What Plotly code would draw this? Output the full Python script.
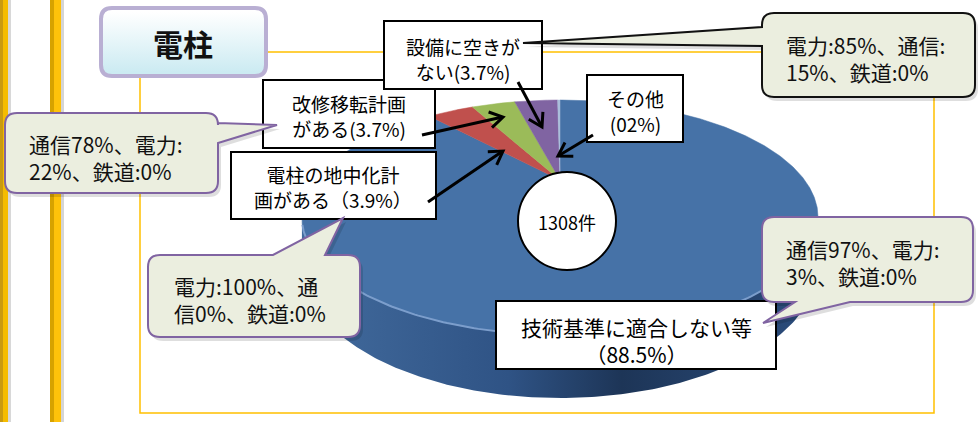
import numpy as np
import plotly.graph_objects as go

# ---------------- data ----------------
title_text = "電柱"
categories = ["技術基準に適合しない等", "電柱の地中化計画がある", "改修移転計画がある", "設備に空きがない", "その他"]
values = [88.5, 3.9, 3.7, 3.7, 0.2]
total_label = "1308件"
label_lines = [
    ["技術基準に適合しない等", "（88.5%）"],
    ["電柱の地中化計", "画がある（3.9%）"],
    ["改修移転計画", "がある(3.7%)"],
    ["設備に空きが", "ない(3.7%)"],
    ["その他", "(02%)"],
]
owner_lines = [
    ["通信97%、電力:", "3%、鉄道:0%"],
    ["電力:100%、通", "信0%、鉄道:0%"],
    ["通信78%、電力:", "22%、鉄道:0%"],
    ["電力:85%、通信:", "15%、鉄道:0%"],
]

# ---------------- styles / layout ----------------
W, H = 979, 422
FONT = "Noto Sans CJK JP"
slice_colors = ["#4672A7", "#C0504D", "#9BBB59", "#8064A2", "#A9BEDA"]

# perspective pie geometry (pixel space)
CX, CY, A, B, K, D0 = 560, 180, 244.6, 105.5, 0.319, 43


def proj(phi, drop=0.0):
    ph = np.radians(phi)
    X = np.sin(ph)
    Z = -np.cos(ph)
    s = 1.0 / (1.0 - K * Z)
    return CX + A * X * s, CY + B * Z * s + D0 * drop * s


fig = go.Figure()

# side of the pie
phis = np.linspace(108.6, 251.4, 240)
tx, ty = proj(phis)
bx, by = proj(phis[::-1], 1.0)
fig.add_trace(go.Scatter(
    x=np.concatenate([tx, bx]), y=np.concatenate([ty, by]),
    fill="toself", mode="lines", line=dict(width=0),
    fillgradient=dict(type="horizontal",
                      colorscale=[[0, "#426B9D"], [0.4, "#2F5385"], [0.62, "#1D3557"], [1, "#2C4E7E"]]),
    hoverinfo="skip", showlegend=False))

# top face slices
cum = np.cumsum([0] + values)
tot = cum[-1]
for i, v in enumerate(values):
    a0 = cum[i] / tot * 360
    a1 = cum[i + 1] / tot * 360
    ph = np.linspace(a0, a1, max(3, int((a1 - a0) * 2)))
    ex, ey = proj(ph)
    fig.add_trace(go.Scatter(
        x=np.concatenate([[CX], ex, [CX]]), y=np.concatenate([[CY], ey, [CY]]),
        fill="toself", mode="lines", line=dict(width=0.5, color=slice_colors[i]),
        fillcolor=slice_colors[i], hoverinfo="skip", showlegend=False))

# bevel highlight on the front edge
hx, hy = proj(np.linspace(112, 248, 200))
fig.add_trace(go.Scatter(x=hx, y=hy, mode="lines", line=dict(color="#7C9ECC", width=2),
                         hoverinfo="skip", showlegend=False))


def rrect_pts(x0, y0, x1, y1, r, n=10):
    pts = []
    for (cx, cy, a0, a1) in [(x1 - r, y0 + r, -90, 0), (x1 - r, y1 - r, 0, 90),
                             (x0 + r, y1 - r, 90, 180), (x0 + r, y0 + r, 180, 270)]:
        t = np.radians(np.linspace(a0, a1, n))
        pts += list(zip(cx + r * np.cos(t), cy + r * np.sin(t)))
    pts.append(pts[0])
    return [p[0] for p in pts], [p[1] for p in pts]


# title box fill (gradient)
tbx, tby = rrect_pts(102, 9, 265, 75, 10)
fig.add_trace(go.Scatter(
    x=tbx, y=tby, fill="toself", mode="lines", line=dict(width=0),
    fillgradient=dict(type="vertical", colorscale=[[0, "#FFFFFF"], [1, "#CCEBF2"]], start=12, stop=72),
    hoverinfo="skip", showlegend=False))

shapes = []
# left golden bars
shapes += [
    dict(type="rect", x0=0, x1=3, y0=0, y1=H, fillcolor="#C99A10", line=dict(width=0), layer="below"),
    dict(type="rect", x0=3, x1=8, y0=0, y1=H, fillcolor="#F5BC00", line=dict(width=0), layer="below"),
    dict(type="rect", x0=8, x1=11, y0=0, y1=H, fillcolor="#D8D8D8", line=dict(width=0), layer="below"),
    dict(type="rect", x0=50, x1=54, y0=0, y1=H, fillcolor="#D7A200", line=dict(width=0), layer="below"),
    dict(type="rect", x0=54, x1=61, y0=0, y1=H, fillcolor="#FFC20A", line=dict(width=0), layer="below"),
    dict(type="rect", x0=61, x1=64, y0=0, y1=H, fillcolor="#D5D5D5", line=dict(width=0), layer="below"),
]
# frame
shapes.append(dict(type="rect", x0=140, x1=934, y0=52, y1=413,
                   line=dict(color="#FFC000", width=1.5), fillcolor="rgba(0,0,0,0)", layer="below"))


def rr_path(x0, y0, x1, y1, r, side=None, b0=None, b1=None, tip=None):
    p = [f"M{x0 + r},{y0}"]
    if side == "top":
        p += [f"L{b0},{y0}", f"L{tip[0]},{tip[1]}", f"L{b1},{y0}"]
    p += [f"L{x1 - r},{y0}", f"Q{x1},{y0} {x1},{y0 + r}"]
    if side == "right":
        p += [f"L{x1},{b0}", f"L{tip[0]},{tip[1]}", f"L{x1},{b1}"]
    p += [f"L{x1},{y1 - r}", f"Q{x1},{y1} {x1 - r},{y1}"]
    if side == "bottom":
        p += [f"L{b1},{y1}", f"L{tip[0]},{tip[1]}", f"L{b0},{y1}"]
    p += [f"L{x0 + r},{y1}", f"Q{x0},{y1} {x0},{y1 - r}"]
    if side == "left":
        p += [f"L{x0},{b1}", f"L{tip[0]},{tip[1]}", f"L{x0},{b0}"]
    p += [f"L{x0},{y0 + r}", f"Q{x0},{y0} {x0 + r},{y0}", "Z"]
    return " ".join(p)


# title border
shapes.append(dict(type="path", path=rr_path(101, 8, 266, 76, 11),
                   line=dict(color="#B9AFD3", width=4), fillcolor="rgba(0,0,0,0)", layer="above"))

# label boxes (same order as categories)
label_boxes = [(496, 301, 776, 369), (231, 152, 436, 219), (263, 80, 435, 148),
               (384, 21, 542, 89), (587, 75, 683, 142)]
for (x0, y0, x1, y1) in label_boxes:
    shapes.append(dict(type="rect", x0=x0, y0=y0, x1=x1, y1=y1, fillcolor="white",
                       line=dict(color="black", width=2), layer="above"))

# callouts (owner share), same order as owner_lines
callouts = [
    dict(box=(762, 217, 973, 302), side="bottom", b=(795, 850), tip=(763, 323), line="#8064A2"),
    dict(box=(148, 255, 360, 337), side="top", b=(273, 325), tip=(343, 218), line="#8064A2"),
    dict(box=(5, 113, 218, 193), side="right", b=(123, 143), tip=(277, 125), line="#8064A2"),
    dict(box=(762, 13, 975, 97), side="left", b=(27, 46), tip=(523, 43), line="#111111"),
]
for c in callouts:
    x0, y0, x1, y1 = c["box"]
    shapes.append(dict(type="path",
                       path=rr_path(x0 + 3, y0 + 4, x1 + 3, y1 + 4, 12, c["side"],
                                    c["b"][0] + (3 if c["side"] in ("top", "bottom") else 4),
                                    c["b"][1] + (3 if c["side"] in ("top", "bottom") else 4),
                                    (c["tip"][0] + 3, c["tip"][1] + 4)),
                       fillcolor="rgba(0,0,0,0.13)", line=dict(width=0), layer="above"))
    shapes.append(dict(type="path", path=rr_path(x0, y0, x1, y1, 12, c["side"], c["b"][0], c["b"][1], c["tip"]),
                       fillcolor="#EBEEDF", line=dict(color=c["line"], width=2), layer="above"))

# arrows (label box -> slice), open V heads
arrows = [((518, 82), (542, 127)), ((422, 135), (503, 117)), ((428, 202), (503, 151)), ((593, 135), (558, 156))]
for (t, h) in arrows:
    d = np.array(h, float) - np.array(t, float)
    d /= np.hypot(*d)
    n = np.array([-d[1], d[0]])
    L, Wd = 13, 8
    p1 = np.array(h) - L * d + Wd * n
    p2 = np.array(h) - L * d - Wd * n
    shapes.append(dict(type="line", x0=t[0], y0=t[1], x1=h[0] - 1.5 * d[0], y1=h[1] - 1.5 * d[1],
                       line=dict(color="black", width=3), layer="above"))
    shapes.append(dict(type="path",
                       path=f"M{p1[0]:.1f},{p1[1]:.1f} L{h[0]},{h[1]} L{p2[0]:.1f},{p2[1]:.1f}",
                       line=dict(color="black", width=3), fillcolor="rgba(0,0,0,0)", layer="above"))

# center circle
shapes.append(dict(type="circle", x0=518, y0=172, x1=616, y1=270, fillcolor="white",
                   line=dict(color="black", width=2), layer="above"))

ann = []
ann.append(dict(x=183, y=43, text=f"<b>{title_text}</b>", showarrow=False,
                font=dict(family=FONT, size=30, color="#111"), xanchor="center", yanchor="middle"))

label_pos = [((636, 340), 21), ((333, 187), 19), ((349, 116), 19), ((463, 59), 19), ((635, 111), 19)]
for lines, ((px, py), fs) in zip(label_lines, label_pos):
    ann.append(dict(x=px, y=py, text="<br>".join(lines), showarrow=False, xanchor="center",
                    yanchor="middle", align="center", borderpad=0,
                    font=dict(family=FONT, size=fs, color="black")))

owner_pos = [(785, 262), (173, 299), (28, 157), (785, 58)]
for lines, (lx, ly) in zip(owner_lines, owner_pos):
    ann.append(dict(x=lx, y=ly, text="<br>".join(lines), showarrow=False, xanchor="left",
                    yanchor="middle", align="left", borderpad=0,
                    font=dict(family=FONT, size=21, color="#111")))

ann.append(dict(x=567, y=222, text=total_label, showarrow=False, xanchor="center", yanchor="middle",
                font=dict(family=FONT, size=18, color="black")))

fig.update_layout(
    width=W, height=H, margin=dict(l=0, r=0, t=0, b=0),
    paper_bgcolor="white", plot_bgcolor="white",
    xaxis=dict(range=[0, W], visible=False, fixedrange=True),
    yaxis=dict(range=[H, 0], visible=False, fixedrange=True),
    shapes=shapes, annotations=ann, showlegend=False,
)
fig.write_html("out.html", config={"displayModeBar": False, "staticPlot": True},
               post_script="document.body.style.margin='0';document.body.style.overflow='hidden';")
